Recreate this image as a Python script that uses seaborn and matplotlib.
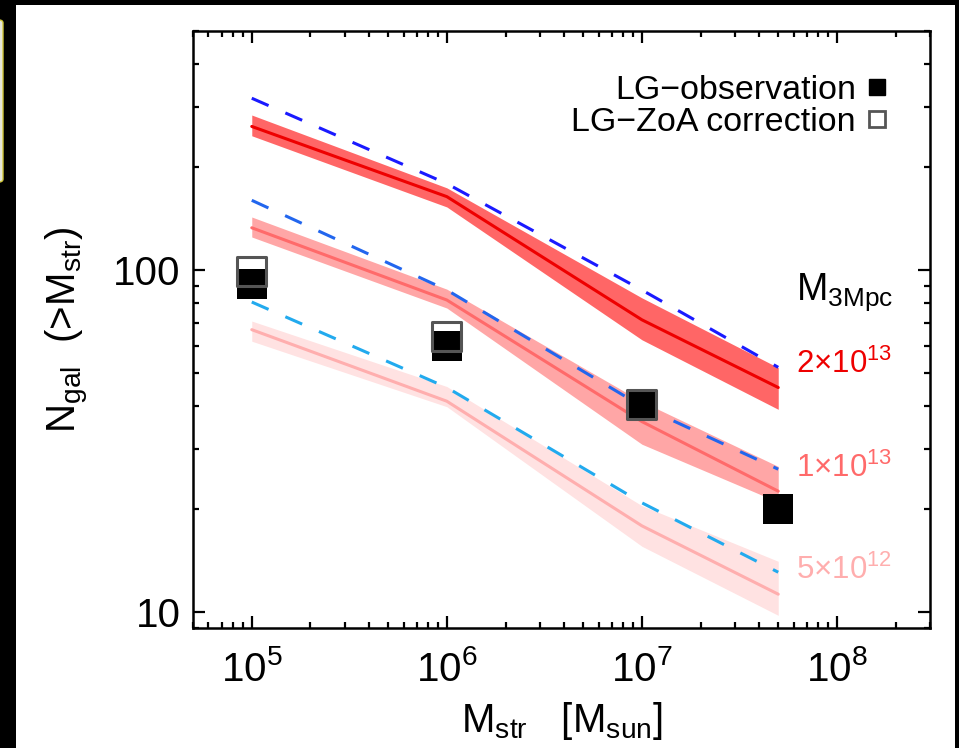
import matplotlib
matplotlib.use("Agg")
import matplotlib.pyplot as plt
import seaborn as sns
from matplotlib.lines import Line2D
from matplotlib.patches import Rectangle, FancyBboxPatch
from matplotlib.ticker import LogLocator, NullFormatter, LogFormatterMathtext

# stellar mass thresholds
mstr = [1e5, 1e6, 1e7, 5e7]

# M_3Mpc = 2e13
hi_med = [263, 164, 71.6, 45.4]
hi_lo = [247, 153, 62.6, 39.2]
hi_up = [284, 174, 83, 51.9]
hi_dash = [318, 179, 87.5, 52]

# M_3Mpc = 1e13
mid_med = [133, 81.8, 36.1, 22.6]
mid_lo = [125, 77.5, 31, 21]
mid_up = [143, 88, 41.3, 26.7]
mid_dash = [160, 87.5, 40, 26.2]

# M_3Mpc = 5e12
lo_med = [67, 41.4, 17.9, 11.3]
lo_lo = [62, 39.9, 15.6, 9.8]
lo_up = [71, 45.7, 20.5, 14.1]
lo_dash = [80.7, 45.4, 20.9, 13.1]

# Local Group counts
obs = [91, 60, 40.6, 20.1]
zoa_x = [1e5, 1e6, 1e7]
zoa = [99.3, 64, 40.6]

mass_labels = [r"2$\times$10$^{13}$", r"1$\times$10$^{13}$", r"5$\times$10$^{12}$"]

sns.set_style("ticks")
plt.rcParams["font.family"] = ["Liberation Sans", "DejaVu Sans"]
plt.rcParams["mathtext.fontset"] = "custom"
plt.rcParams["mathtext.rm"] = "Liberation Sans"
plt.rcParams["mathtext.it"] = "Liberation Sans:italic"
plt.rcParams["mathtext.bf"] = "Liberation Sans:bold"
plt.rcParams["text.color"] = "black"
plt.rcParams["axes.labelcolor"] = "black"
plt.rcParams["xtick.color"] = "black"
plt.rcParams["ytick.color"] = "black"

fig = plt.figure(figsize=(9.59, 7.48), dpi=100)
fig.patch.set_facecolor("black")
fig.patches.append(Rectangle((16 / 959, 0), 939 / 959, 743 / 748, transform=fig.transFigure,
                             facecolor="white", edgecolor="none", zorder=-5))
fig.patches.append(FancyBboxPatch((-10 / 959, 1 - 182 / 748), 13 / 959, 162 / 748,
                                  boxstyle="round,pad=0,rounding_size=0.004",
                                  transform=fig.transFigure, facecolor="#e6e6da",
                                  edgecolor="#cfc63a", lw=1.0, zorder=-4))

ax = fig.add_axes([0.2013, 0.1604, 0.7685, 0.7982])
ax.set_xscale("log")
ax.set_yscale("log")

groups = [
    (hi_lo, hi_up, hi_med, hi_dash, "#ff6666", "#ee0000", "#1a1aff"),
    (mid_lo, mid_up, mid_med, mid_dash, "#ffa6a6", "#ff6a6a", "#2266ee"),
    (lo_lo, lo_up, lo_med, lo_dash, "#ffe2e2", "#ffaeae", "#22aaee"),
]
for lo, up, med, dash, band_c, line_c, dash_c in groups:
    ax.fill_between(mstr, lo, up, color=band_c, lw=0, zorder=1)
    sns.lineplot(x=mstr, y=med, color=line_c, lw=2.2, ax=ax, zorder=2)
    sns.lineplot(x=mstr, y=dash, color=dash_c, lw=2.2, linestyle=(0, (6, 6)), ax=ax, zorder=3)

sns.scatterplot(x=mstr, y=obs, marker="s", s=466, color="black", edgecolor="black",
                linewidth=0, ax=ax, zorder=5)
sns.scatterplot(x=zoa_x, y=zoa, marker="s", s=441, facecolor="none", edgecolor="#555555",
                linewidth=2.2, ax=ax, zorder=6)

ax.set_xlim(5e4, 3e8)
ax.set_ylim(9, 500)

ax.xaxis.set_major_locator(LogLocator(base=10, numticks=20))
ax.xaxis.set_minor_locator(LogLocator(base=10, subs=range(2, 10), numticks=20))
ax.xaxis.set_major_formatter(LogFormatterMathtext())
ax.xaxis.set_minor_formatter(NullFormatter())
ax.set_yticks([10, 100])
ax.set_yticklabels(["10", "100"])
ax.yaxis.set_minor_locator(LogLocator(base=10, subs=range(2, 10), numticks=20))
ax.yaxis.set_minor_formatter(NullFormatter())

ax.tick_params(which="both", direction="in", top=True, right=True, width=1.6, colors="black")
ax.tick_params(which="major", length=8.6, labelsize=29)
ax.tick_params(which="minor", length=4.3)
ax.tick_params(axis="x", pad=16)
ax.tick_params(axis="y", pad=9)
for sp in ax.spines.values():
    sp.set_linewidth(1.8)
    sp.set_color("black")

ax.set_xlabel(r"M$_{\rm str}$   [M$_{\rm sun}$]", fontsize=29, labelpad=8)
ax.set_ylabel(r"N$_{\rm gal}$  (>M$_{\rm str}$)", fontsize=29, labelpad=16)

handles = [
    Line2D([], [], marker="s", ls="none", color="black", ms=12),
    Line2D([], [], marker="s", ls="none", mfc="white", mec="#555555", mew=2, ms=12),
]
ax.legend(handles, ["LG\u2212observation", "LG\u2212ZoA correction"], loc="upper right",
          bbox_to_anchor=(0.95, 0.927), markerfirst=False, frameon=False, fontsize=24.5,
          handlelength=0.95, handletextpad=0.15, labelspacing=0.05, borderpad=0,
          borderaxespad=0)

ax.text(0.95, 0.5494, r"M$_{\rm 3Mpc}$", transform=ax.transAxes, ha="right", va="baseline",
        fontsize=27, color="black")
label_y = [0.4271, 0.2529, 0.0821]
label_c = ["#ee0000", "#ff6a6a", "#ffaeae"]
for txt, yy, cc in zip(mass_labels, label_y, label_c):
    ax.text(0.9484, yy, txt, transform=ax.transAxes, ha="right", va="baseline",
            fontsize=22.5, color=cc)

fig.savefig("out.png", dpi=100, facecolor=fig.get_facecolor())
